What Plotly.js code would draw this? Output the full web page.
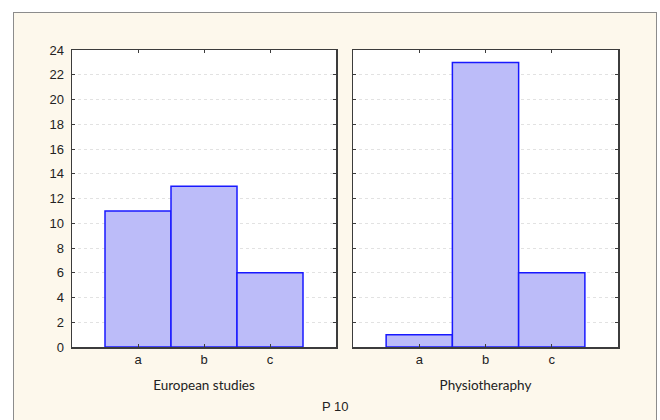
<!DOCTYPE html>
<html>
<head>
<meta charset="utf-8">
<script src="https://cdn.plot.ly/plotly-3.0.1.min.js"></script>
<style>
  html, body { margin: 0; padding: 0; background: #ffffff; width: 660px; height: 420px; overflow: hidden; }
  #frame { position: absolute; left: 13px; top: 12px; width: 642px; height: 420px; background: #fdf8ec; border-left: 1.5px solid #8c8c8c; border-top: 1.5px solid #8c8c8c; border-right: 1.5px solid #8c8c8c; }
  #chart { position: absolute; left: 0; top: 0; width: 660px; height: 420px; }
</style>
</head>
<body>
<div id="frame"></div>
<div id="chart"></div>
<script>
// Data
const categories = ['a', 'b', 'c'];
const europeanStudies = [11, 13, 6];
const physiotheraphy = [1, 23, 6];
const panelTitles = ['European studies', 'Physiotheraphy'];
const overallTitle = 'P 10';
const yTicks = [0, 2, 4, 6, 8, 10, 12, 14, 16, 18, 20, 22, 24];

const barStyle = {
  color: '#bcbcf9',
  line: { color: '#1818ff', width: 1.5 }
};

const traces = [
  { type: 'bar', x: categories, y: europeanStudies, xaxis: 'x', yaxis: 'y', marker: barStyle, showlegend: false, hoverinfo: 'x+y' },
  { type: 'bar', x: categories, y: physiotheraphy, xaxis: 'x2', yaxis: 'y2', marker: barStyle, showlegend: false, hoverinfo: 'x+y' }
];

const font = { family: 'Liberation Sans, Arial, sans-serif', size: 13, color: '#222222' };
const titleFont = { family: 'Lato, Open Sans, sans-serif', size: 13.5, color: '#222222' };

const xCommon = {
  type: 'category',
  range: [-1, 3],
  showline: true, linecolor: '#3c3c3c', linewidth: 1.5, mirror: 'ticks',
  ticks: 'inside', ticklen: 3, tickcolor: '#3c3c3c', tickwidth: 1,
  showgrid: false, zeroline: false,
  tickfont: font, fixedrange: true,
  automargin: false
};
const yCommon = {
  range: [0, 24],
  tickvals: yTicks,
  showline: true, linecolor: '#3c3c3c', linewidth: 1.5, mirror: 'ticks',
  ticks: 'inside', ticklen: 3, tickcolor: '#3c3c3c', tickwidth: 1,
  showgrid: true, gridcolor: '#e2e2e2', griddash: 'dot', gridwidth: 1,
  zeroline: false, tickfont: font, fixedrange: true,
  automargin: false
};

const leftDomain = [0, 264 / 546];
const rightDomain = [281 / 546, 1];

const layout = {
  width: 660, height: 420,
  margin: { l: 72, r: 42, t: 50, b: 73, pad: 0 },
  paper_bgcolor: 'rgba(0,0,0,0)',
  plot_bgcolor: '#ffffff',
  font: font,
  bargap: 0,
  showlegend: false,
  xaxis: Object.assign({}, xCommon, { domain: leftDomain, anchor: 'y',
    title: { text: panelTitles[0], font: titleFont, standoff: 14 } }),
  xaxis2: Object.assign({}, xCommon, { domain: rightDomain, anchor: 'y2',
    title: { text: panelTitles[1], font: titleFont, standoff: 14 } }),
  yaxis: Object.assign({}, yCommon, { anchor: 'x', ticklabelstandoff: 4 }),
  yaxis2: Object.assign({}, yCommon, { anchor: 'x2', showticklabels: false }),
  annotations: [
    { text: overallTitle, xref: 'paper', yref: 'paper', x: 263 / 546, y: -59 / 297,
      xanchor: 'center', yanchor: 'middle', showarrow: false, font: font }
  ]
};

Plotly.newPlot('chart', traces, layout, { displayModeBar: false, staticPlot: true });
</script>
</body>
</html>
